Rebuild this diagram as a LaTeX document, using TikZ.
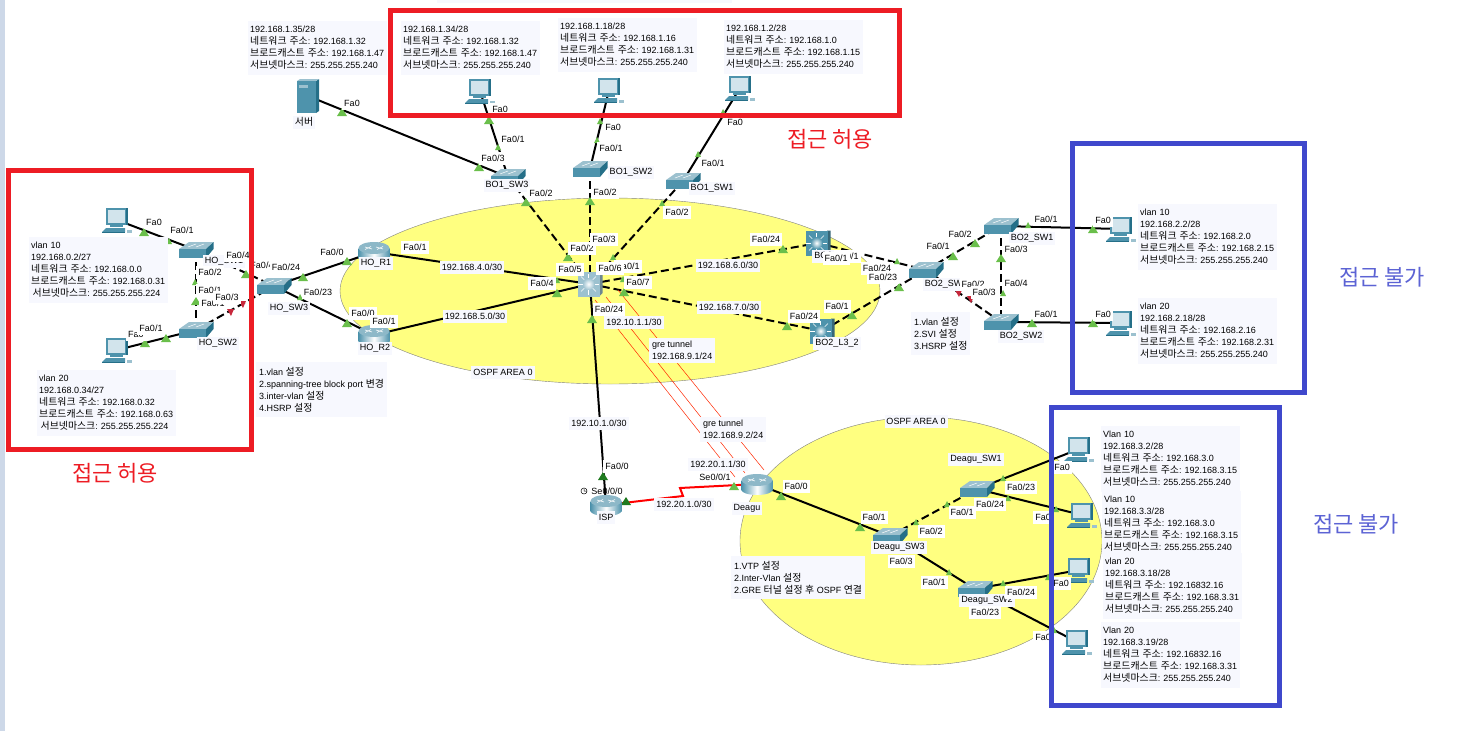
\documentclass[tikz,border=0pt]{standalone}
\usepackage{fontspec}
\setmainfont{Liberation Sans}
\newfontfamily\krfont[Scale=1.1]{Noto Sans CJK KR}
\usetikzlibrary{arrows.meta}
\definecolor{infofill}{HTML}{F7F8FE}
\definecolor{areafill}{HTML}{FFFF80}
\definecolor{stripfill}{HTML}{CDD8E8}
\definecolor{linkgreen}{HTML}{6ABF4B}
\definecolor{serialgreen}{HTML}{1F7A1F}
\definecolor{portred}{HTML}{C8283C}
\definecolor{boxred}{HTML}{ED1C24}
\definecolor{boxblue}{HTML}{3F48CC}
\definecolor{devfront}{HTML}{4E93AC}
\definecolor{devside}{HTML}{256F88}
\definecolor{devtop}{HTML}{9CC1CF}
\definecolor{pcscreen}{HTML}{D2E4EC}
\newcommand{\netaddr}{{\krfont 네트워크 주소}}
\newcommand{\bcastaddr}{{\krfont 브로드캐스트 주소}}
\newcommand{\maskaddr}{{\krfont 서브넷마스크}}
\newcommand{\cfgword}{{\krfont 설정}}
\tikzset{
  link/.style={line width=2pt},
  trunk/.style={line width=2pt, dash pattern=on 8pt off 4pt},
  tunnel/.style={red!70!orange, line width=0.5pt},
  port/.style={fill=white, inner xsep=2pt, inner ysep=0pt, minimum height=13pt, font=\fontsize{9}{11}\selectfont},
  devname/.style={port, fill=infofill},
  info/.style={anchor=north west, fill=infofill, align=left, inner xsep=3pt, inner ysep=5pt, font=\fontsize{9}{12}\selectfont\frenchspacing},
  hostinfo/.style={info, inner xsep=2pt, text width=135pt},
  caption/.style={font=\fontsize{20}{24}\selectfont},
  frame/.style={line width=5pt},
  pics/pcicon/.style={code={
    \fill[devside] (-10,-12) rectangle (11,5);
    \fill[devfront] (-11,-12) rectangle (9,5);
    \fill[pcscreen] (-9,-10) rectangle (8,3);
    \fill[devfront] (-7,5) rectangle (6,7);
    \fill[devfront] (-15,12) -- (-11,8) -- (8,8) -- (8,12) -- cycle;
    \fill[devside] (-15,12) rectangle (8,13);
    \fill[devtop] (10,10) rectangle (15,13);
  }},
  pics/serverbox/.style={code={
    \fill[devside] (8,-15) -- (11,-17) -- (11,15) -- (8,17) -- cycle;
    \fill[devtop] (-11,-15) -- (-8,-17) -- (11,-17) -- (8,-15) -- cycle;
    \fill[devfront] (-11,-15) rectangle (8,17);
    \fill[devtop] (-9,-11) rectangle (0,-8);
  }},
  pics/switchbox/.style={code={
    \fill[devtop] (-17,-1) -- (-7,-8) -- (17,-8) -- (10,-1) -- cycle;
    \fill[devfront] (-17.5,-1) rectangle (10,8);
    \fill[devside] (10,-1) -- (17.5,-8) -- (17.5,-1) -- (10,8) -- cycle;
    \draw[white, line width=0.5pt] (-8,-3) -- (0,-6) (0,-3) -- (8,-6);
  }},
  pics/routerbox/.style={code={
    \shade[left color=devfront, right color=devfront, middle color=white] (-15.5,-4) rectangle (15.5,6);
    \shade[left color=devfront, right color=devfront, middle color=white] (0,6) ellipse (15.5pt and 5pt);
    \fill[devtop!80!devfront] (0,-4) ellipse (15.5pt and 6pt);
    \draw[white, line width=0.6pt] (-9,-5) -- (-2,-3) (2,-5) -- (9,-3) (-9,-2.5) -- (-3,-5.5) (3,-2.5) -- (9,-5.5);
  }},
  pics/layerbox/.style={code={
    \fill[#1!70!black] (9,-12.5) -- (12.5,-12.5) -- (12.5,9) -- (9,12.5) -- cycle;
    \fill[#1] (-12.5,-12.5) rectangle (9.5,12.5);
    \shade[inner color=white, outer color=#1] (-1.5,0) circle (6pt);
    \foreach \a in {0,45,...,315}
      \draw[white, line width=0.6pt] (-1.5,0) ++(\a:6) -- ++(\a:4.5);
  }},
}

\begin{document}
\begin{tikzpicture}[x=1pt, y=-1pt]
  \useasboundingbox (0,0) rectangle (1457,731);
  \fill[stripfill] (0,0) rectangle (5,731);
  \fill[infofill] (437,0) rectangle (732,3);
  % ospf areas
  \draw[fill=areafill, draw=gray] (610,291) ellipse (270pt and 93pt);
  \draw[fill=areafill, draw=gray] (921,541) ellipse (181pt and 124pt);
  % device positions
  \coordinate (hopca) at (117,220);
  \coordinate (hopcb) at (117,350);
  \coordinate (hosw1) at (196,250);
  \coordinate (hosw2) at (196,330);
  \coordinate (hosw3) at (274,286);
  \coordinate (hor1) at (374,252);
  \coordinate (hor2) at (374,335);
  \coordinate (server) at (308,96);
  \coordinate (bopca) at (480,91);
  \coordinate (bopcb) at (609,90);
  \coordinate (bopcc) at (740,88);
  \coordinate (bo1sw3) at (508,177);
  \coordinate (bo1sw2) at (590,169);
  \coordinate (bo1sw1) at (683,181);
  \coordinate (core) at (590,284);
  \coordinate (bo2l3a) at (818,243);
  \coordinate (bo2l3b) at (822,331);
  \coordinate (bo2sw) at (926,270);
  \coordinate (bo2sw1) at (1001,226);
  \coordinate (bo2sw2) at (1001,322);
  \coordinate (bo2pca) at (1121,229);
  \coordinate (bo2pcb) at (1121,323);
  \coordinate (isp) at (606,505);
  \coordinate (deagu) at (757,484);
  \coordinate (dgsw3) at (890,536);
  \coordinate (dgsw1) at (977,489);
  \coordinate (dgsw2) at (975,589);
  \coordinate (dgpca) at (1079,449);
  \coordinate (dgpcb) at (1082,515);
  \coordinate (dgpcc) at (1079,570);
  \coordinate (dgpcd) at (1077,642);
  \coordinate (tuna) at (595,300);
  \coordinate (tunb) at (606,297);
  \coordinate (tunc) at (618,290);
  \coordinate (tund) at (735,477);
  \coordinate (tune) at (745,473);
  \coordinate (tunf) at (764,470);
  \coordinate (kinka) at (680,488);
  \coordinate (kinkb) at (683,496);
  % links
  \draw[link] (hopca) -- (hosw1);
  \draw[link] (hopcb) -- (hosw2);
  \draw[trunk] (hosw1) -- (hosw2);
  \draw[trunk] (hosw1) -- (hosw3);
  \draw[trunk] (hosw2) -- (hosw3);
  \draw[link] (hosw3) -- (hor1);
  \draw[link] (hosw3) -- (hor2);
  \draw[link] (hor1) -- (core);
  \draw[link] (hor2) -- (core);
  \draw[link] (server) -- (bo1sw3);
  \draw[link] (bopca) -- (bo1sw3);
  \draw[link] (bopcb) -- (bo1sw2);
  \draw[link] (bopcc) -- (bo1sw1);
  \draw[trunk] (bo1sw3) -- (core);
  \draw[trunk] (bo1sw2) -- (core);
  \draw[trunk] (bo1sw1) -- (core);
  \draw[trunk] (core) -- (bo2l3a);
  \draw[trunk] (core) -- (bo2l3b);
  \draw[trunk] (bo2l3a) -- (bo2sw);
  \draw[trunk] (bo2l3b) -- (bo2sw);
  \draw[trunk] (bo2sw) -- (bo2sw1);
  \draw[trunk] (bo2sw) -- (bo2sw2);
  \draw[trunk] (bo2sw1) -- (bo2sw2);
  \draw[link] (bo2sw1) -- (bo2pca);
  \draw[link] (bo2sw2) -- (bo2pcb);
  \draw[link] (core) -- (isp);
  \draw[link] (deagu) -- (dgsw3);
  \draw[trunk] (dgsw3) -- (dgsw1);
  \draw[link] (dgsw3) -- (dgsw2);
  \draw[link] (dgsw1) -- (dgpca);
  \draw[link] (dgsw1) -- (dgpcb);
  \draw[link] (dgsw2) -- (dgpcc);
  \draw[link] (dgsw2) -- (dgpcd);
  \draw[tunnel] (tuna) -- (tund);
  \draw[tunnel] (tunb) -- (tune);
  \draw[tunnel] (tunc) -- (tunf);
  \draw[red, line width=2pt] (deagu) -- (kinka) -- (kinkb) -- (isp);
  % link lights
  \foreach \x/\y in {144/232,166/338,145/343,196/301,246/274,303/277,347/323,347/261,342/112,489/120,
      479/167,526/202,590/201,568/257,557/293,624/292,592/319,783/249,787/326,852/315,899/287,
      953/256,975/243,1001/258,1032/323,1093/229,1093/323,781/496,860/527,734/486}
    \fill[linkgreen] (\x,\y) ++(-5,4) -- ++(10,0) -- ++(-5,-8) -- cycle;
  \foreach \x/\y in {169/241,195/282,300/297,498/147,600/121,597/140,723/112,698/154,662/203,613/257,
      557/280,623/279,897/261,1003/293,1028/225,916/522,947/504,949/572,1003/478,1008/498,1003/583,
      1048/577,1056/509,1054/630}
    \fill[linkgreen] (\x,\y) ++(-3,3) -- ++(6,0) -- ++(-3,-6) -- cycle;
  \foreach \x/\y in {603/476,626/501}
    \fill[serialgreen] (\x,\y) ++(-5,4) -- ++(10,0) -- ++(-5,-8) -- cycle;
  \foreach \x/\y in {230/312,242/304,958/293,970/299}
    \fill[portred] (\x,\y) ++(-3,-3) -- ++(7,0) -- ++(-3,7) -- cycle;
  % devices
  \pic at (hopca) {pcicon};
  \pic at (hopcb) {pcicon};
  \pic at (bopca) {pcicon};
  \pic at (bopcb) {pcicon};
  \pic at (bopcc) {pcicon};
  \pic at (bo2pca) {pcicon};
  \pic at (bo2pcb) {pcicon};
  \pic at (dgpca) {pcicon};
  \pic at (dgpcb) {pcicon};
  \pic at (dgpcc) {pcicon};
  \pic at (dgpcd) {pcicon};
  \pic at (server) {serverbox};
  \foreach \d in {hosw1,hosw2,hosw3,bo1sw3,bo1sw2,bo1sw1,bo2sw,bo2sw1,bo2sw2,dgsw3,dgsw1,dgsw2}
    \pic at (\d) {switchbox};
  \foreach \d in {hor1,hor2,isp,deagu}
    \pic at (\d) {routerbox};
  \pic at (core) {layerbox=devtop};
  \pic at (bo2l3a) {layerbox=devfront};
  \pic at (bo2l3b) {layerbox=devfront};
  \draw[line width=0.5pt] (584,491) circle (3pt) (584,489) -- (584,491) -- (586,491);
  % host notes
  \node[hostinfo] (notehoa) at (29,237) {vlan 10\\192.168.0.2/27\\\netaddr: 192.168.0.0\\\bcastaddr: 192.168.0.31\\\,\maskaddr: 255.255.255.224};
  \node[hostinfo] (notehob) at (37,370) {vlan 20\\192.168.0.34/27\\\netaddr: 192.168.0.32\\\bcastaddr: 192.168.0.63\\\,\maskaddr: 255.255.255.224};
  \node[hostinfo] (notesrv) at (248,21) {192.168.1.35/28\\\netaddr: 192.168.1.32\\\bcastaddr: 192.168.1.47\\\maskaddr: 255.255.255.240};
  \node[hostinfo] (notebo1) at (401,21) {192.168.1.34/28\\\netaddr: 192.168.1.32\\\bcastaddr: 192.168.1.47\\\maskaddr: 255.255.255.240};
  \node[hostinfo] (notebo2) at (558,18) {192.168.1.18/28\\\netaddr: 192.168.1.16\\\bcastaddr: 192.168.1.31\\\maskaddr: 255.255.255.240};
  \node[hostinfo] (notebo3) at (724,20) {192.168.1.2/28\\\netaddr: 192.168.1.0\\\bcastaddr: 192.168.1.15\\\maskaddr: 255.255.255.240};
  \node[hostinfo] (notebra) at (1138,204) {vlan 10\\192.168.2.2/28\\\netaddr: 192.168.2.0\\\bcastaddr: 192.168.2.15\\\maskaddr: 255.255.255.240};
  \node[hostinfo] (notebrb) at (1138,298) {vlan 20\\192.168.2.18/28\\\netaddr: 192.168.2.16\\\bcastaddr: 192.168.2.31\\\maskaddr: 255.255.255.240};
  \node[hostinfo] (notedga) at (1101,426) {Vlan 10\\192.168.3.2/28\\\netaddr: 192.168.3.0\\\bcastaddr: 192.168.3.15\\\maskaddr: 255.255.255.240};
  \node[hostinfo] (notedgb) at (1102,491) {Vlan 10\\192.168.3.3/28\\\netaddr: 192.168.3.0\\\bcastaddr: 192.168.3.15\\\maskaddr: 255.255.255.240};
  \node[hostinfo] (notedgc) at (1103,553) {vlan 20\\192.168.3.18/28\\\netaddr: 192.16832.16\\\bcastaddr: 192.168.3.31\\\maskaddr: 255.255.255.240};
  \node[hostinfo] (notedgd) at (1101,622) {Vlan 20\\192.168.3.19/28\\\netaddr: 192.16832.16\\\bcastaddr: 192.168.3.31\\\maskaddr: 255.255.255.240};
  % config notes
  \node[info] (cfgho) at (256,362) {1.vlan \cfgword\\2.spanning-tree block port {\krfont 변경}\\3.inter-vlan \cfgword\\4.HSRP \cfgword};
  \node[info] (cfgbo) at (911,312) {1.vlan \cfgword\\2.SVI \cfgword\\3.HSRP \cfgword};
  \node[info] (cfgdg) at (731,556) {1.VTP \cfgword\\2.Inter-Vlan \cfgword\\2.GRE {\krfont 터널} \cfgword{} {\krfont 후} OSPF {\krfont 연결}};
  \node[info, inner ysep=3pt] (grea) at (649,338) {gre tunnel\\192.168.9.1/24};
  \node[info, inner ysep=3pt] (greb) at (700,417) {gre tunnel\\192.168.9.2/24};
  % names
  \node[devname] (nmsrv) at (304,122) {\krfont 서버};
  \node[devname] (nmhosw1) at (224,261) {HO\_SW1};
  \node[devname] (nmhosw2) at (218,343) {HO\_SW2};
  \node[devname] (nmhosw3) at (289,308) {HO\_SW3};
  \node[devname] (nmhor1) at (376,263) {HO\_R1};
  \node[devname] (nmhor2) at (375,348) {HO\_R2};
  \node[devname] (nmbo3) at (507,185) {BO1\_SW3};
  \node[devname] (nmbo2) at (631,172) {BO1\_SW2};
  \node[devname] (nmbo1) at (712,188) {BO1\_SW1};
  \node[devname] (nmbl3a) at (836,256) {BO2\_L3\_1};
  \node[devname] (nmbl3b) at (837,343) {BO2\_L3\_2};
  \node[devname] (nmbsw) at (946,284) {BO2\_SW3};
  \node[devname] (nmbsw1) at (1032,238) {BO2\_SW1};
  \node[devname] (nmbsw2) at (1021,336) {BO2\_SW2};
  \node[devname] (nmisp) at (606,517) {ISP};
  \node[devname] (nmdeagu) at (747,508) {Deagu};
  \node[devname] (nmdg1) at (976,459) {Deagu\_SW1};
  \node[devname] (nmdg3) at (899,547) {Deagu\_SW3};
  \node[devname] (nmdg2) at (987,600) {Deagu\_SW2};
  % networks
  \node[devname] (neta) at (472,267) {192.168.4.0/30};
  \node[devname] (netb) at (475,316) {192.168.5.0/30};
  \node[devname] (netc) at (728,265) {192.168.6.0/30};
  \node[devname] (netd) at (729,307) {192.168.7.0/30};
  \node[devname] (nete) at (599,423) {192.10.1.0/30};
  \node[devname] (netf) at (684,504) {192.20.1.0/30};
  \node[devname] (ipa) at (634,322) {192.10.1.1/30};
  \node[devname] (ipb) at (718,464) {192.20.1.1/30};
  \node[devname] (areaa) at (503,372) {OSPF AREA 0};
  \node[devname] (areab) at (916,421) {OSPF AREA 0};
  % ports, head office
  \node[port] (pa1) at (154,222) {Fa0};
  \node[port] (pa2) at (182,230) {Fa0/1};
  \node[port] (pa3) at (238,255) {Fa0/4};
  \node[port] (pa4) at (262,265) {Fa0/4};
  \node[port] (pa5) at (286,267) {Fa0/24};
  \node[port] (pa6) at (210,272) {Fa0/2};
  \node[port] (pa7) at (213,303) {Fa0/1};
  \node[port] (pa8) at (210,290) {Fa0/1};
  \node[port] (pa9) at (227,297) {Fa0/3};
  \node[port] (pa10) at (136,334) {Fa0};
  \node[port] (pa11) at (151,328) {Fa0/1};
  \node[port] (pa12) at (318,292) {Fa0/23};
  \node[port] (pa13) at (332,252) {Fa0/0};
  \node[port] (pa14) at (363,313) {Fa0/0};
  \node[port] (pa15) at (384,321) {Fa0/1};
  \node[port] (pa16) at (415,247) {Fa0/1};
  % ports, branch one
  \node[port] (pb1) at (352,103) {Fa0};
  \node[port] (pb2) at (500,109) {Fa0};
  \node[port] (pb3) at (513,139) {Fa0/1};
  \node[port] (pb4) at (493,158) {Fa0/3};
  \node[port] (pb5) at (541,193) {Fa0/2};
  \node[port] (pb6) at (613,127) {Fa0};
  \node[port] (pb7) at (611,148) {Fa0/1};
  \node[port] (pb8) at (605,192) {Fa0/2};
  \node[port] (pb9) at (735,122) {Fa0};
  \node[port] (pb10) at (713,163) {Fa0/1};
  \node[port] (pb11) at (677,212) {Fa0/2};
  % ports, core
  \node[port] (pc1) at (582,248) {Fa0/2};
  \node[port] (pc2) at (604,239) {Fa0/3};
  \node[port] (pc3) at (570,269) {Fa0/5};
  \node[port] (pc4) at (628,266) {Fa0/1};
  \node[port] (pc5) at (610,268) {Fa0/6};
  \node[port] (pc6) at (638,282) {Fa0/7};
  \node[port] (pc7) at (542,283) {Fa0/4};
  \node[port] (pc8) at (609,309) {Fa0/24};
  % ports, branch two
  \node[port] (pd1) at (766,239) {Fa0/24};
  \node[port] (pd2) at (804,316) {Fa0/24};
  \node[port] (pd3) at (837,306) {Fa0/1};
  \node[port] (pd4) at (847,256) {Fa0/1};
  \node[port] (pd5) at (836,258) {Fa0/1};
  \node[port] (pd6) at (877,268) {Fa0/24};
  \node[port] (pd7) at (883,277) {Fa0/23};
  \node[port] (pd8) at (960,234) {Fa0/2};
  \node[port] (pd9) at (938,246) {Fa0/1};
  \node[port] (pd10) at (1046,219) {Fa0/1};
  \node[port] (pd11) at (1103,220) {Fa0};
  \node[port] (pd12) at (1016,249) {Fa0/3};
  \node[port] (pd13) at (1016,283) {Fa0/4};
  \node[port] (pd14) at (973,284) {Fa0/2};
  \node[port] (pd15) at (984,292) {Fa0/3};
  \node[port] (pd16) at (1046,314) {Fa0/1};
  \node[port] (pd17) at (1103,314) {Fa0};
  % ports, isp and deagu
  \node[port] (pe1) at (617,466) {Fa0/0};
  \node[port, fill=none] (pe2) at (607,491) {Se0/0/0};
  \node[port, fill=none] (pe3) at (715,477) {Se0/0/1};
  \node[port] (pe4) at (796,486) {Fa0/0};
  \node[port] (pe5) at (874,517) {Fa0/1};
  \node[port] (pe6) at (901,561) {Fa0/3};
  \node[port] (pe7) at (931,531) {Fa0/2};
  \node[port] (pe8) at (990,504) {Fa0/24};
  \node[port] (pe9) at (962,512) {Fa0/1};
  \node[port] (pe10) at (934,582) {Fa0/1};
  \node[port] (pe11) at (985,612) {Fa0/23};
  \node[port] (pe12) at (1021,487) {Fa0/23};
  \node[port] (pe13) at (1021,592) {Fa0/24};
  \node[port] (pe14) at (1062,467) {Fa0};
  \node[port] (pe15) at (1043,517) {Fa0};
  \node[port] (pe16) at (1061,583) {Fa0};
  \node[port] (pe17) at (1043,637) {Fa0};
  % frames
  \draw[frame, boxred] (8.5,170.5) rectangle (251.5,449.5);
  \draw[frame, boxred] (390.5,10.5) rectangle (899.5,115.5);
  \draw[frame, boxblue] (1072.5,143.5) rectangle (1304.5,392.5);
  \draw[frame, boxblue] (1051.5,407.5) rectangle (1279.5,705.5);
  \node[caption, text=boxred] (capa) at (830,139) {\krfont 접근 허용};
  \node[caption, text=boxred] (capb) at (115,473) {\krfont 접근 허용};
  \node[caption, text=boxblue!85!white] (capc) at (1382,277) {\krfont 접근 불가};
  \node[caption, text=boxblue!85!white] (capd) at (1356,524) {\krfont 접근 불가};
\end{tikzpicture}
\end{document}
